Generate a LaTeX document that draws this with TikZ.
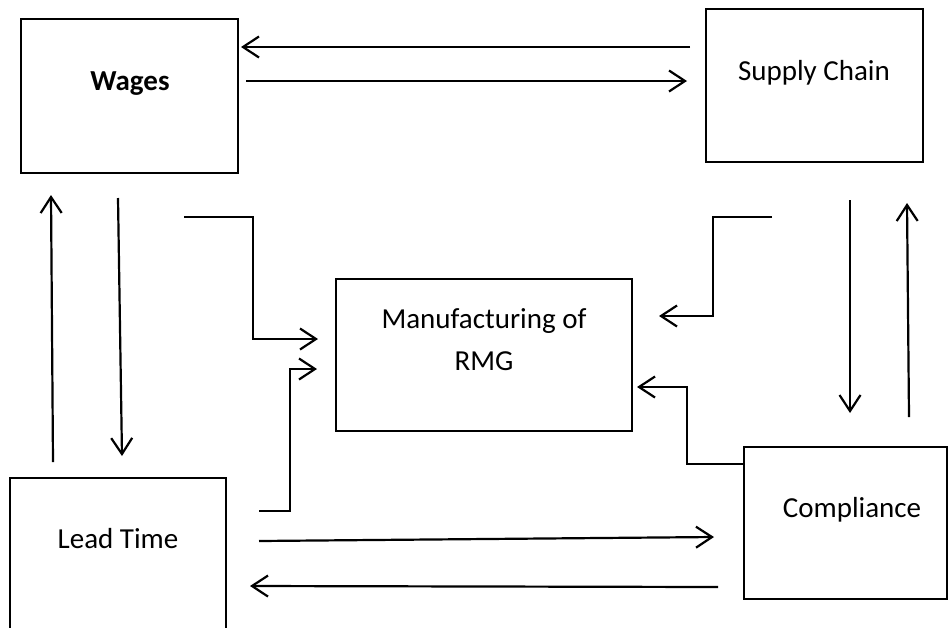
\documentclass[tikz,border=0pt]{standalone}
\usepackage{fontspec}
\setmainfont{Carlito}
\usetikzlibrary{arrows.meta}

\tikzset{
  box/.style={draw, line width=2.8pt, inner sep=0pt},
  caption/.style={anchor=base, inner sep=0pt, font=\fontsize{29}{40}\selectfont},
  flow/.style={line width=2.2pt, -{Straight Barb[length=16pt,width=21pt,line width=2.2pt]}},
}

\begin{document}
\begin{tikzpicture}[x=1pt, y=-1pt]
  \useasboundingbox (0,0) rectangle (949,627);
  \clip (0,0) rectangle (949,627);

  % boxes
  \node[box, minimum width=217pt, minimum height=154pt] (wages)  at (129.5,96)  {};
  \node[box, minimum width=217pt, minimum height=153pt] (supply) at (814.5,85.5) {};
  \node[box, minimum width=296pt, minimum height=152pt] (mfg)    at (484,355)   {};
  \node[box, minimum width=216pt, minimum height=170pt] (lead)   at (118,563)   {};
  \node[box, minimum width=203pt, minimum height=152pt] (comp)   at (845.5,523) {};

  % captions
  \node[caption, font=\fontsize{29}{40}\selectfont\bfseries] (tWages) at (130,90) {Wages};
  \node[caption] (tSupply) at (814,80)  {Supply Chain};
  \node[caption] (tMfgA)   at (484,328) {Manufacturing of};
  \node[caption] (tMfgB)   at (484,370) {RMG};
  \node[caption] (tLead)   at (118,548) {Lead Time};
  \node[caption] (tComp)   at (852,517) {Compliance};

  % connector ends
  \coordinate (sw1) at (690,47);  \coordinate (sw2) at (241,47);
  \coordinate (ws1) at (246,81);  \coordinate (ws2) at (687,81);
  \coordinate (lw1) at (53,462);  \coordinate (lw2) at (51,195);
  \coordinate (wl1) at (118,198); \coordinate (wl2) at (122,456);
  \coordinate (wm1) at (184,217); \coordinate (wm2) at (253,217);
  \coordinate (wm3) at (253,339); \coordinate (wm4) at (318,339);
  \coordinate (lm1) at (259,511); \coordinate (lm2) at (290,511);
  \coordinate (lm3) at (290,369); \coordinate (lm4) at (317,369);
  \coordinate (sm1) at (772,217); \coordinate (sm2) at (713,217);
  \coordinate (sm3) at (713,316); \coordinate (sm4) at (659,316);
  \coordinate (cm2) at (687,464);
  \coordinate (cm3) at (687,387); \coordinate (cm4) at (637,387);
  \coordinate (sc1) at (850,200); \coordinate (sc2) at (850,413);
  \coordinate (cs1) at (909,417); \coordinate (cs2) at (907,203);
  \coordinate (lc1) at (259,541); \coordinate (lc2) at (714,537);
  \coordinate (cl1) at (718,587); \coordinate (cl2) at (250,586);

  % connectors
  \draw[flow] (sw1) -- (sw2);
  \draw[flow] (ws1) -- (ws2);
  \draw[flow] (lw1) -- (lw2);
  \draw[flow] (wl1) -- (wl2);
  \draw[flow] (wm1) -- (wm2) -- (wm3) -- (wm4);
  \draw[flow] (lm1) -- (lm2) -- (lm3) -- (lm4);
  \draw[flow] (sm1) -- (sm2) -- (sm3) -- (sm4);
  \draw[flow] (comp.west |- cm2) -- (cm2) -- (cm3) -- (cm4);
  \draw[flow] (sc1) -- (sc2);
  \draw[flow] (cs1) -- (cs2);
  \draw[flow] (lc1) -- (lc2);
  \draw[flow] (cl1) -- (cl2);
\end{tikzpicture}
\end{document}
